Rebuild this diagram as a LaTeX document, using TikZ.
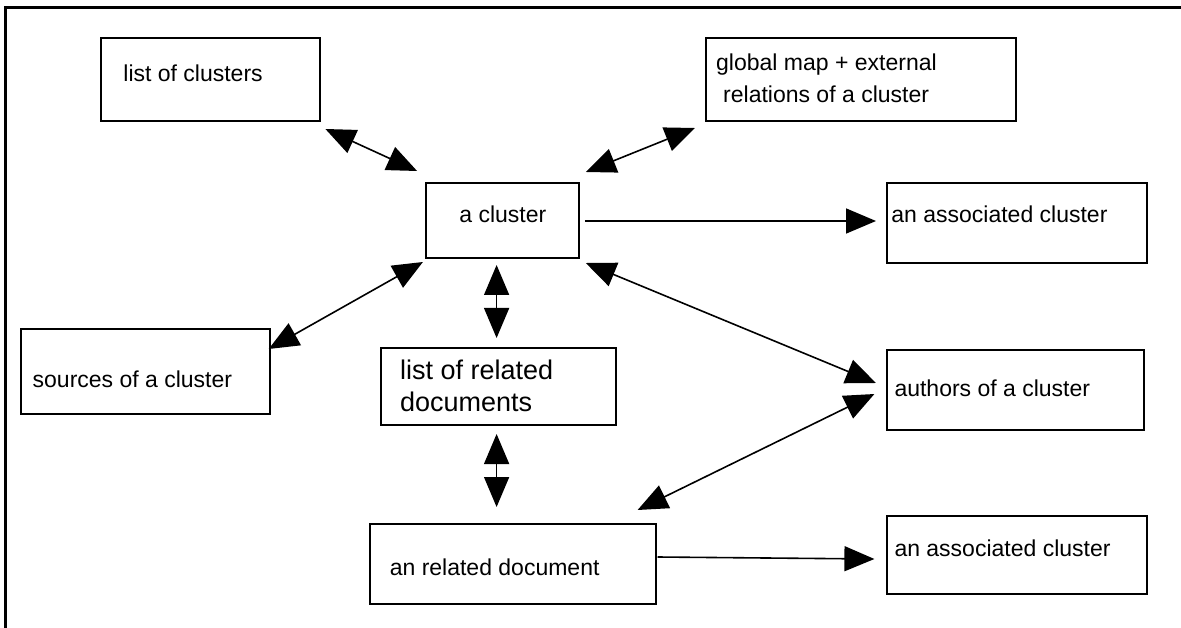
\documentclass[tikz,border=0pt]{standalone}
\usepackage{fontspec}
\setmainfont{Liberation Sans}
\usetikzlibrary{arrows.meta}
\begin{document}
\begin{tikzpicture}[x=1pt,y=-1pt,
  box/.style={draw,line width=2pt,inner sep=0pt,anchor=north west},
  txt/.style={inner sep=0pt,anchor=base west,font=\fontsize{23}{28}\selectfont},
  bigtxt/.style={inner sep=0pt,anchor=base west,font=\fontsize{27}{31}\selectfont},
  conn/.style={line width=1.6pt,-{Triangle[length=30pt,width=25pt]}},
  dconn/.style={line width=1.6pt,{Triangle[length=30pt,width=25pt]}-{Triangle[length=30pt,width=25pt]}}]
\useasboundingbox (0,0) rectangle (1181,628);
\fill[white] (0,0) rectangle (1181,628);
% frame
\coordinate (fbl) at (5.7,628);
\coordinate (ftl) at (5.7,7.5);
\coordinate (ftr) at (1181,7.5);
\draw[line width=2.5pt] (fbl) -- (ftl) -- (ftr);
% boxes
\node[box,minimum width=219.3pt,minimum height=83pt] (lc) at (99.5,37) {};
\node[box,minimum width=153.1pt,minimum height=75pt] (ac) at (424.8,182) {};
\node[box,minimum width=310.1pt,minimum height=83pt] (gm) at (704.9,37) {};
\node[box,minimum width=260.5pt,minimum height=80pt] (aa1) at (885.5,182) {};
\node[box,minimum width=248.8pt,minimum height=85pt] (src) at (19.9,328) {};
\node[box,minimum width=234.9pt,minimum height=77pt] (lrd) at (379.6,347) {};
\node[box,minimum width=257.2pt,minimum height=80pt] (auth) at (885.5,349) {};
\node[box,minimum width=285.4pt,minimum height=80pt] (rd) at (369.3,523) {};
\node[box,minimum width=260.5pt,minimum height=78pt] (aa2) at (885.5,515) {};
% texts
\node[txt] (tlc) at (123.2,82) {list of clusters};
\node[txt] (tac) at (459.2,223) {a cluster};
\node[txt] (tgm1) at (716,71) {global map + external};
\node[txt] (tgm2) at (723,103) {relations of a cluster};
\node[txt] (taa1) at (891.2,223) {an associated cluster};
\node[txt] (tsrc) at (32.5,387) {sources of a cluster};
\node[bigtxt] (tlrd1) at (399.9,380) {list of related};
\node[bigtxt] (tlrd2) at (399.9,411) {documents};
\node[txt] (trd) at (389.6,575) {an related document};
\node[txt] (tauth) at (894.3,396) {authors of a cluster};
\node[txt] (taa2) at (894.3,556) {an associated cluster};
% connectors
\draw[dconn] ([shift={(4.6,7)}]lc.south east) -- ([shift={(-7.7,-11)}]ac.north west);
\draw[dconn] ([shift={(5.9,-10)}]ac.north east) -- ([shift={(-9.9,6)}]gm.south west);
\draw[conn] ([shift={(5,0.5)}]ac.east) -- ([shift={(-9.5,-2)}]aa1.west);
\draw[dconn] ([shift={(-1.9,3)}]ac.south west) -- ([shift={(-2,21)}]src.north east);
\draw[dconn] ([shift={(-5.75,6)}]ac.south) -- ([shift={(-1.45,-9)}]lrd.north);
\draw[dconn] ([shift={(-1.45,8)}]lrd.south) -- ([shift={(-16.4,-16)}]rd.north);
\draw[dconn] ([shift={(5.9,4)}]ac.south east) -- ([shift={(-9.6,-7)}]auth.west);
\draw[dconn] ([shift={(-11.1,4)}]auth.west) -- ([shift={(-19.1,-13)}]rd.north east);
\draw[conn] ([shift={(0.8,-7)}]rd.east) -- ([shift={(-11.1,4)}]aa2.west);
\end{tikzpicture}
\end{document}
